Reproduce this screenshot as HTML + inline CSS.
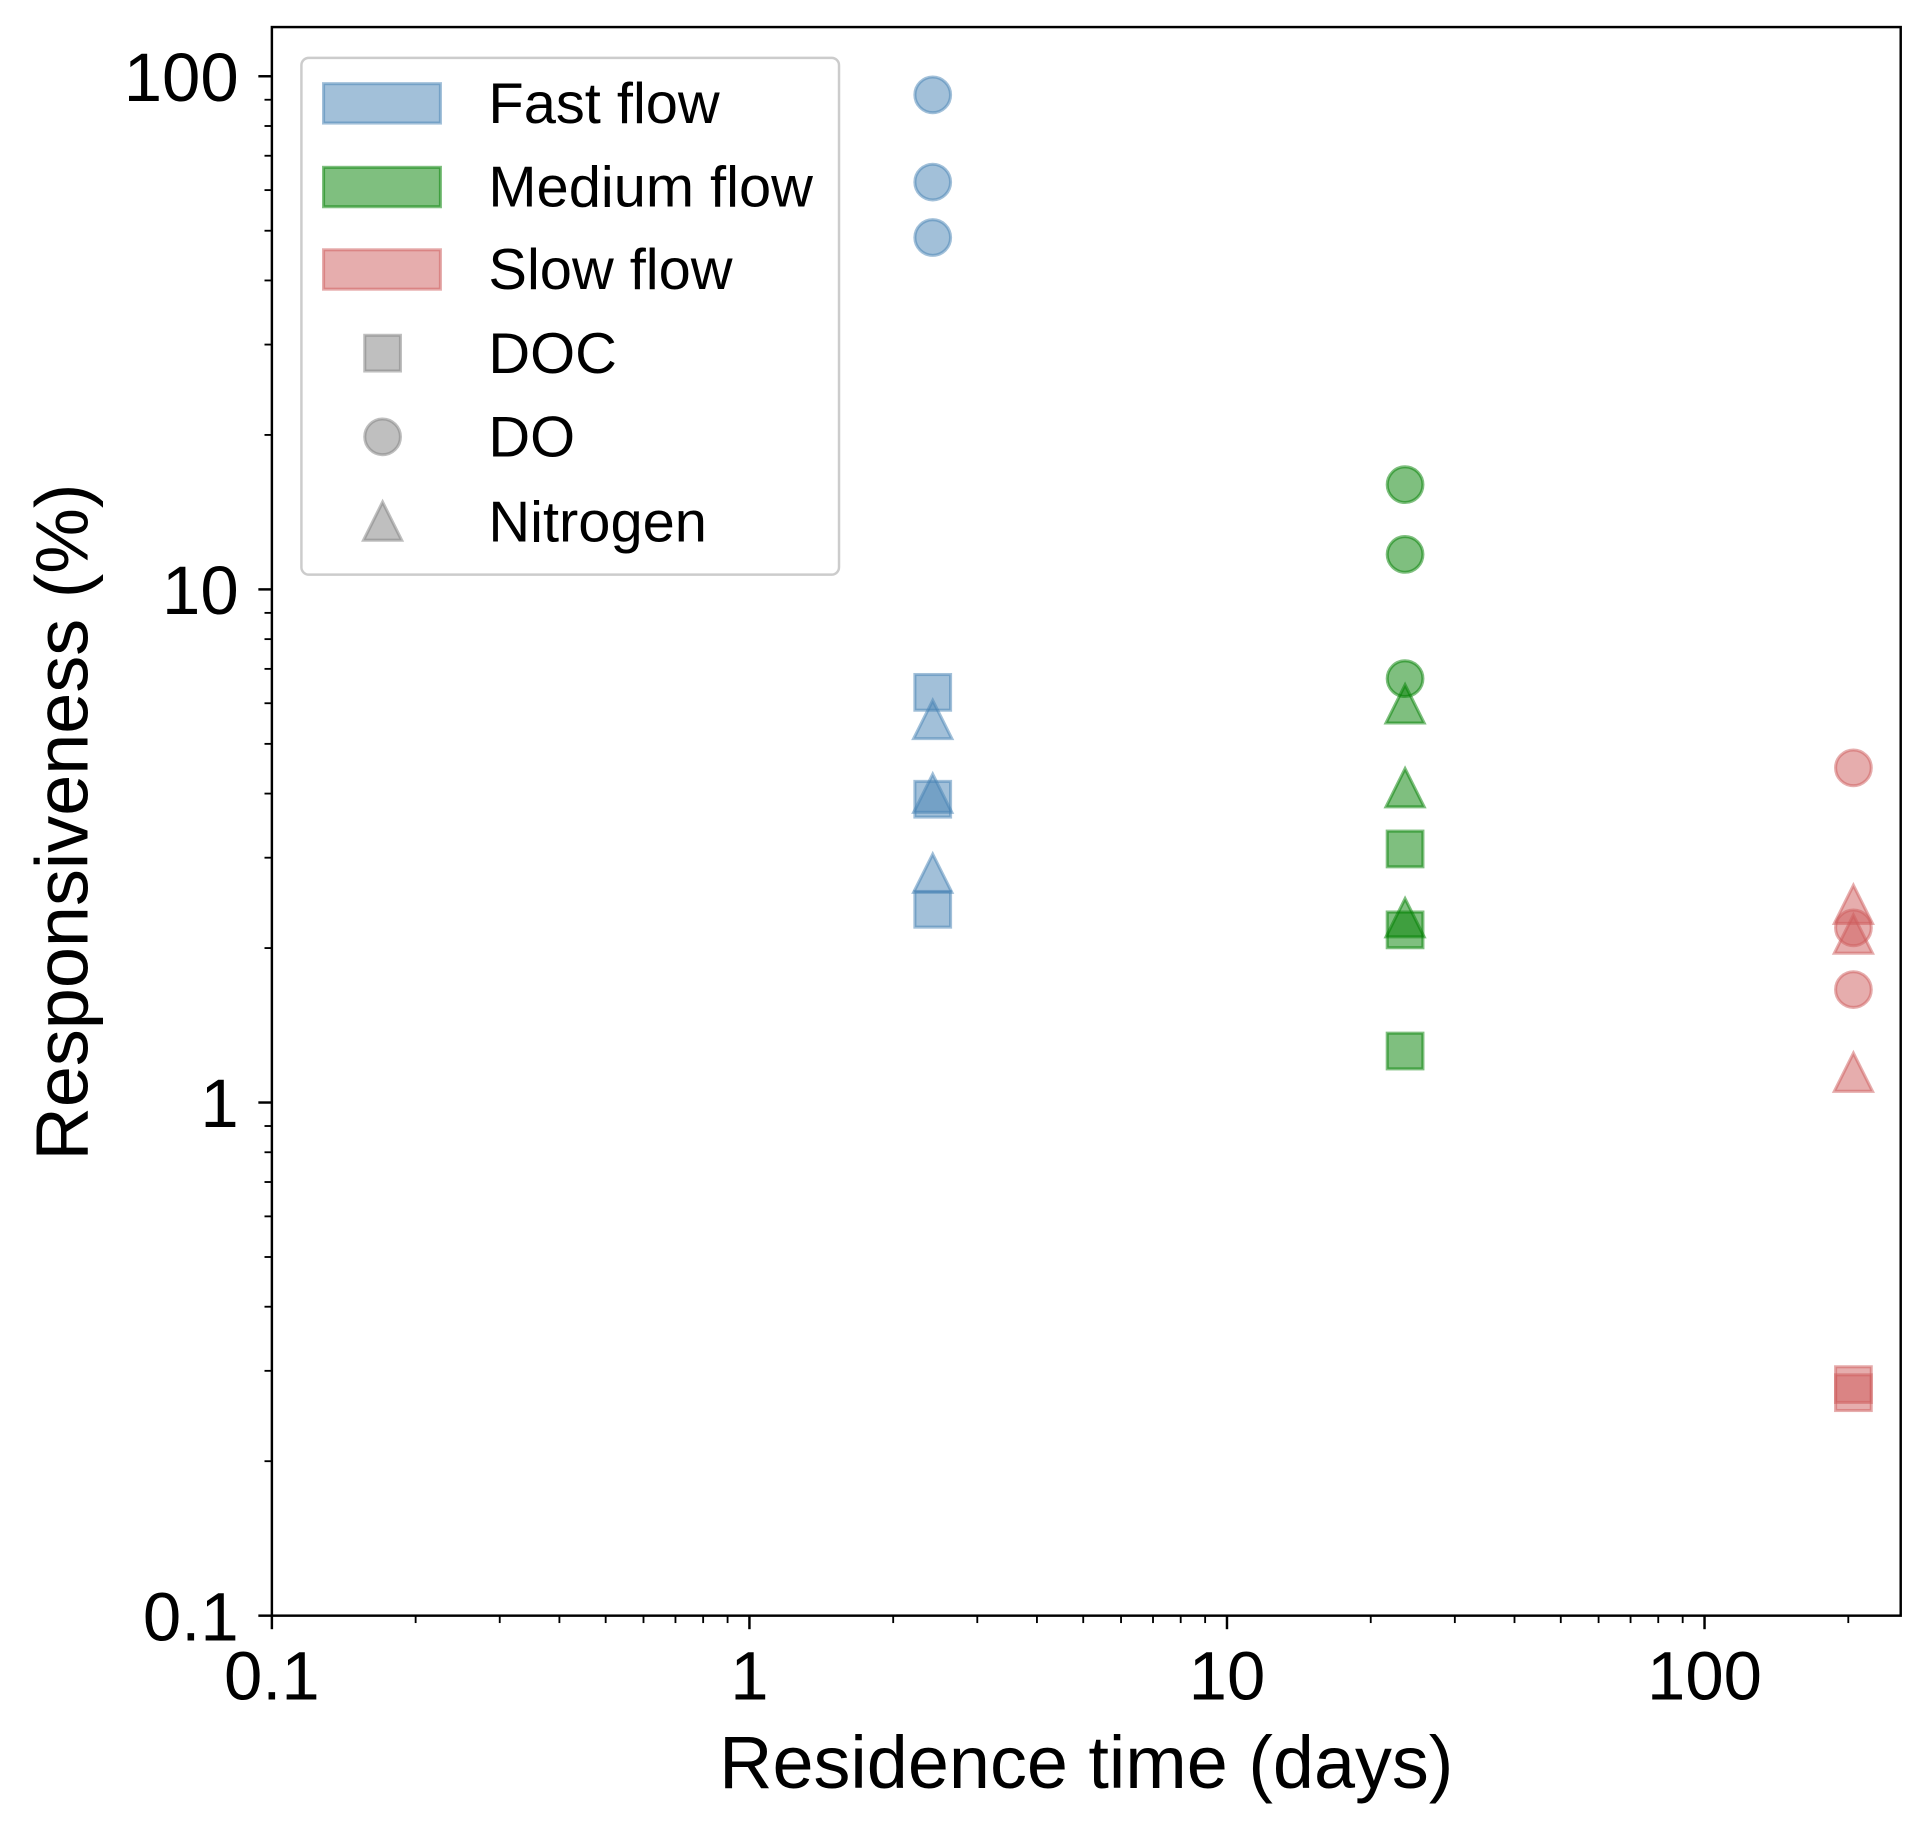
<!DOCTYPE html>
<html><head><meta charset="utf-8"><style>
html,body{margin:0;padding:0;background:#fff}
svg{display:block}
text{font-family:"Liberation Sans",Arial,sans-serif;fill:#000}
</style></head><body>
<svg id="chart" width="1929" height="1831" viewBox="0 0 1568 1488" preserveAspectRatio="none" xmlns="http://www.w3.org/2000/svg">
<g id="marks"></g>
<rect x="221" y="22" width="1324" height="1291" fill="none" stroke="#000" stroke-width="2"/>
<g id="ticks"></g>
<text x="883" y="1453" font-size="60" text-anchor="middle">Residence time (days)</text>
<text transform="translate(71,668) rotate(-90)" font-size="60" text-anchor="middle">Responsiveness (%)</text>
<g id="legend">
<rect x="245" y="47" width="437" height="420" rx="6" fill="#fff" fill-opacity="0.8" stroke="#ccc" stroke-width="2"/>
</g>
</svg>
<script>
const categories = ["Fast flow","Medium flow","Slow flow"];
const colors = ["#4682b4","#008000","#cd5c5c"];
const residence = [2.42, 23.6, 205];
const docValues = [[6.3,3.9,2.38],[3.12,2.17,1.26],[0.282,0.272]];
const doValues = [[92,62.2,48.5],[16,11.7,6.7],[4.49,2.19,1.66]];
const nValues = [[5.5,3.95,2.76],[5.9,4.05,2.26],[2.4,2.1,1.13]];
const xTicks = [0.1,1,10,100];
const xTickLabels = ["0.1","1","10","100"];
const yTicks = [0.1,1,10,100];
const yTickLabels = ["0.1","1","10","100"];

const NS="http://www.w3.org/2000/svg";
const X0=221,X1=1545,Y0=1313,Y1=22;
const xmin=Math.log10(0.1),xmax=Math.log10(257.5);
const ymin=-1,ymax=Math.log10(124.7);
function xs(v){return X0+(Math.log10(v)-xmin)/(xmax-xmin)*(X1-X0);}
function ys(v){return Y0-(Math.log10(v)-ymin)/(ymax-ymin)*(Y0-Y1);}
function mk(tag,attrs,parent){const e=document.createElementNS(NS,tag);for(const k in attrs)e.setAttribute(k,attrs[k]);parent.appendChild(e);return e;}
const marks=document.getElementById('marks'),ticks=document.getElementById('ticks'),legend=document.getElementById('legend');
const R=14.5;
function marker(shape,cx,cy,col,parent){
  let e;
  if(shape==='s'){e=mk('rect',{x:cx-R,y:cy-R,width:2*R,height:2*R},parent);}
  else if(shape==='o'){e=mk('circle',{cx:cx,cy:cy,r:R},parent);}
  else{e=mk('polygon',{points:`${cx},${cy-18} ${cx+15.5},${cy+13} ${cx-15.5},${cy+13}`},parent);}
  e.setAttribute('fill',col);e.setAttribute('fill-opacity','0.5');
  e.setAttribute('stroke',col);e.setAttribute('stroke-opacity','0.5');e.setAttribute('stroke-width','2.5');
  return e;
}
categories.forEach((c,i)=>{
  docValues[i].forEach(v=>{const e=marker('s',xs(residence[i]),ys(v),colors[i],marks);
    
    });
  doValues[i].forEach(v=>{const e=marker('o',xs(residence[i]),ys(v),colors[i],marks);
    
    });
  nValues[i].forEach(v=>{const e=marker('t',xs(residence[i]),ys(v),colors[i],marks);
    
    });
});
for(let d=-1;d<=2;d++){for(let m=1;m<=9;m++){
  const v=m*Math.pow(10,d);const L=m===1?11:6;
  if(v<=257.5){const x=xs(v);const t=mk('line',{x1:x,x2:x,y1:Y0,y2:Y0+L,stroke:'#000','stroke-width':m===1?2:1.5},ticks);
    
    }
  if(v<=124.7){const y=ys(v);const t=mk('line',{x1:X0-L,x2:X0,y1:y,y2:y,stroke:'#000','stroke-width':m===1?2:1.5},ticks);
    
    }
}}
xTicks.forEach((v,i)=>{const t=mk('text',{x:xs(v),y:1381,'font-size':56,'text-anchor':'middle'},ticks);t.textContent=xTickLabels[i];
  
  });
yTicks.forEach((v,i)=>{const t=mk('text',{x:194,y:ys(v)+20,'font-size':56,'text-anchor':'end'},ticks);t.textContent=yTickLabels[i];
  
  });
const legY=[84,152,219,287,355,424];
categories.forEach((c,i)=>{
  const r=mk('rect',{x:263,y:legY[i]-16,width:95,height:32,fill:colors[i],'fill-opacity':0.5,stroke:colors[i],'stroke-opacity':0.5,'stroke-width':2.5},legend);
  
  
  const t=mk('text',{x:397,y:legY[i]+16,'font-size':47},legend);t.textContent=c;
  
  
});
const shapeNames=["DOC","DO","Nitrogen"],shapes=['s','o','t'];
shapeNames.forEach((n,j)=>{
  const e=marker(shapes[j],311,legY[3+j]+(shapes[j]==='t'?2:0),'#808080',legend);
  
  
  const t=mk('text',{x:397,y:legY[3+j]+16,'font-size':47},legend);t.textContent=n;
  
  
});
</script>
</body></html>
